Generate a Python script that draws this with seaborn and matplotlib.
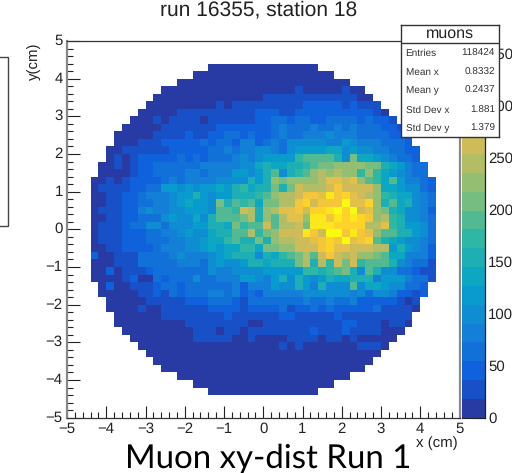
import numpy as np
import matplotlib
matplotlib.use("Agg")
import matplotlib.pyplot as plt
from matplotlib.colors import LinearSegmentedColormap, ListedColormap
from matplotlib.patches import Rectangle
import seaborn as sns

W, H = 512, 473

# colour band of each bin (0 = lowest band, 19 = top band)
# rows run from y = 4.3 down to y = -4.3, each row is centred on x = 0
band_rows = [
    [0] * 14,
    [0] * 18,
    [0] * 22,
    [0] * 13 + [0, 0, 0, 0, 1, 0, 0, 0, 0, 0, 1, 0, 0],
    [0] * 14 + [1] * 12 + [0, 0],
    [0] * 9 + [1, 0, 1, 1, 1, 1] + [1, 1, 1, 1, 1, 2, 2, 2, 2, 2, 1, 2, 1, 1, 1],
    [0] * 5 + [1, 1, 1, 1, 1, 1, 1, 1, 1, 1, 2] + [2, 2, 1, 1, 2, 2, 2, 2, 2, 2, 2, 2, 2, 2, 1, 0],
    [0, 0, 0, 1, 0, 1, 1, 1, 1, 0, 1, 1, 1, 1, 1, 1, 2] + [2, 3, 3, 2, 3, 3, 2, 2, 3, 3, 3, 3, 2, 3, 2, 2, 1],
    [0] * 5 + [1] * 7 + [2] * 6 + [2, 3, 4, 3, 3, 3, 4, 3, 3, 4, 3, 4, 3, 3, 3, 2, 2, 1],
    [0, 0, 0, 0, 0, 1, 1, 1, 1, 2, 1, 1, 2, 2, 3, 3, 2, 3, 2] + [2, 3, 4, 3, 3, 4, 4, 4, 5, 4, 4, 4, 3, 3, 3, 3, 2, 2, 1],
    [0, 0, 0, 1, 1, 1, 2, 2, 2, 2, 2, 3, 2, 3, 3, 2] + [4, 4, 2, 3, 4, 3, 5, 5, 5, 5, 5, 4, 4, 6, 5, 4, 4, 4, 3, 3, 3, 2],
    [0, 0, 1, 1, 1, 1, 1, 1, 2, 2, 2, 2, 2, 3, 3, 4, 3, 4, 4, 5] + [5, 4, 3, 5, 6, 6, 6, 6, 7, 7, 5, 6, 5, 5, 4, 4, 3, 3, 2, 2],
    [0, 1, 0, 1, 2, 2, 2, 2, 2, 3, 2, 3, 2, 3, 3, 3, 4, 5, 4, 5] + [6, 6, 6, 6, 9, 10, 10, 10, 10, 8, 5, 11, 7, 7, 6, 5, 4, 3, 3, 2],
    [0, 0, 1, 0, 1, 2, 2, 3, 3, 3, 3, 3, 3, 4, 4, 4, 4, 4, 5, 5, 7] + [8, 7, 7, 8, 8, 9, 10, 11, 11, 12, 12, 12, 12, 11, 11, 8, 7, 6, 4, 3, 3],
    [0, 0, 0, 0, 1, 2, 2, 3, 3, 3, 3, 4, 4, 3, 4, 4, 4, 6, 6, 5, 6] + [8, 10, 5, 8, 9, 10, 12, 13, 12, 13, 12, 12, 9, 12, 9, 7, 6, 5, 4, 3, 3],
    [0, 0, 1, 0, 1, 2, 2, 2, 2, 3, 4, 3, 4, 4, 4, 4, 5, 5, 5, 5, 8, 6] + [8, 12, 11, 12, 12, 12, 12, 13, 15, 15, 14, 15, 12, 10, 9, 7, 10, 6, 4, 4, 3, 2],
    [0, 1, 1, 1, 1, 2, 2, 3, 3, 6, 6, 5, 6, 5, 6, 6, 7, 6, 8, 9, 7, 8] + [8, 11, 8, 11, 14, 13, 13, 13, 14, 16, 14, 14, 14, 14, 12, 7, 7, 6, 5, 5, 3, 2],
    [0, 0, 1, 1, 2, 2, 3, 4, 4, 4, 5, 6, 6, 8, 6, 5, 6, 6, 8, 8, 8, 9] + [10, 12, 13, 13, 14, 16, 16, 15, 18, 16, 17, 15, 14, 13, 12, 9, 8, 7, 7, 5, 4, 3],
    [0, 0, 1, 1, 2, 2, 3, 3, 4, 4, 5, 6, 7, 6, 6, 5, 11, 8, 10, 9, 10, 7] + [11, 11, 13, 13, 16, 17, 14, 16, 16, 16, 19, 15, 15, 17, 12, 8, 10, 7, 8, 5, 4, 3],
    [0, 1, 1, 1, 2, 2, 4, 5, 4, 4, 5, 5, 6, 6, 6, 5, 10, 10, 9, 14, 13, 8] + [12, 13, 15, 15, 16, 14, 17, 17, 18, 19, 17, 19, 14, 15, 12, 11, 8, 7, 5, 5, 4, 2],
    [0, 0, 1, 1, 2, 2, 3, 3, 3, 5, 6, 5, 5, 7, 5, 8, 10, 10, 10, 11, 13, 8] + [12, 10, 13, 15, 15, 12, 18, 18, 16, 18, 17, 18, 17, 16, 12, 13, 9, 8, 5, 5, 4, 3],
    [0, 1, 1, 1, 2, 3, 3, 5, 5, 3, 5, 5, 5, 6, 6, 8, 8, 7, 11, 9, 10, 10] + [14, 10, 13, 13, 14, 11, 18, 18, 18, 17, 17, 17, 17, 13, 13, 15, 9, 8, 6, 6, 5, 3],
    [0, 1, 1, 1, 2, 2, 2, 3, 3, 4, 4, 5, 6, 5, 5, 7, 8, 8, 10, 10, 13, 9] + [11, 12, 14, 14, 14, 18, 16, 14, 19, 19, 16, 18, 16, 15, 12, 10, 10, 8, 8, 6, 5, 3],
    [0, 1, 1, 1, 2, 2, 2, 3, 3, 3, 4, 4, 5, 5, 6, 7, 7, 9, 10, 8, 8, 11] + [8, 12, 13, 13, 14, 14, 15, 16, 17, 16, 19, 15, 16, 17, 10, 8, 7, 6, 5, 5, 4, 3],
    [0, 0, 1, 1, 2, 2, 2, 2, 3, 4, 4, 4, 5, 5, 6, 7, 6, 7, 7, 9, 9, 7] + [11, 11, 12, 12, 14, 14, 14, 16, 17, 15, 15, 14, 14, 14, 13, 13, 6, 8, 6, 5, 4, 2],
    [2, 0, 0, 1, 1, 1, 3, 3, 3, 3, 4, 5, 4, 4, 4, 5, 6, 7, 8, 8, 8, 5] + [8, 7, 9, 10, 11, 13, 10, 14, 16, 14, 13, 14, 12, 12, 11, 10, 7, 7, 4, 4, 4, 2],
    [0, 0, 0, 1, 1, 1, 3, 3, 3, 3, 3, 4, 4, 4, 3, 5, 6, 5, 5, 6, 8, 8] + [7, 8, 8, 8, 11, 13, 8, 13, 9, 14, 11, 14, 9, 10, 10, 10, 8, 5, 4, 3, 3, 1],
    [0, 0, 2, 0, 1, 1, 1, 2, 3, 3, 3, 3, 3, 3, 3, 5, 4, 4, 5, 5, 5, 5] + [6, 6, 6, 6, 6, 9, 9, 8, 9, 10, 11, 8, 5, 10, 8, 5, 5, 3, 3, 2, 1, 1],
    [0, 0, 0, 0, 1, 2, 0, 0, 3, 2, 3, 3, 3, 5, 3, 3, 4, 4, 4, 6, 6, 5] + [4, 6, 8, 5, 8, 6, 5, 6, 8, 7, 7, 8, 8, 8, 4, 6, 6, 6, 4, 3, 3, 1],
    [0, 2, 0, 0, 1, 1, 1, 2, 3, 3, 2, 3, 3, 3, 3, 3, 3, 4, 2, 4, 4] + [4, 6, 5, 5, 8, 6, 4, 8, 5, 5, 5, 10, 5, 7, 7, 6, 5, 5, 3, 3, 2],
    [0, 0, 0, 0, 0, 1, 1, 2, 1, 3, 2, 3, 3, 3, 4, 4, 3, 4, 2, 3, 2] + [4, 4, 4, 4, 4, 5, 5, 5, 5, 5, 5, 4, 5, 3, 5, 5, 4, 2, 2, 1, 2],
    [0, 0, 0, 0, 0, 1, 1, 1, 1, 1, 2, 2, 2, 3, 3, 3, 2, 1, 3, 3] + [3, 3, 3, 3, 3, 4, 3, 3, 4, 3, 3, 4, 2, 2, 2, 2, 2, 1, 0, 1],
    [0, 0, 0, 0, 1, 0, 0, 1, 1, 1, 1, 1, 1, 2, 2, 2, 2, 1, 2, 2] + [2, 2, 3, 1, 2, 2, 3, 2, 3, 2, 2, 2, 2, 2, 3, 1, 1, 1, 1, 0],
    [0, 0, 0, 0, 0, 0, 1, 1, 1, 1, 1, 1, 1, 1, 2, 1, 1, 1, 1] + [1, 1, 2, 2, 1, 1, 1, 1, 1, 2, 1, 1, 1, 1, 1, 1, 1, 1, 1],
    [0, 0, 0, 0, 0, 0, 0, 0, 0, 1, 1, 1, 1, 1, 1, 1, 1, 0, 0] + [1, 1, 1, 1, 1, 1, 1, 1, 1, 1, 2, 2, 1, 1, 1, 0, 1, 1, 0],
    [0] * 9 + [1, 1, 1, 0, 1, 1, 0, 1, 1] + [1, 1, 1, 1, 1, 1, 2, 1, 1, 1, 2, 1, 1, 1, 1, 0, 0, 0],
    [0] * 8 + [1, 1, 1, 1, 1, 0, 0, 1, 0] + [0, 0, 0, 1, 1, 1, 1, 0, 1, 1, 0, 1, 0, 0, 0, 0, 0],
    [0] * 16 + [0, 0, 1, 0, 1, 0, 0, 0, 0, 0, 0, 0, 1, 1, 1, 0],
    [0] * 30,
    [0] * 28,
    [0] * 26,
    [0] * 22,
    [0] * 18,
    [0] * 14,
]

# ROOT "bird" palette stops
bird_r = [0.2082, 0.0592, 0.0780, 0.0232, 0.1802, 0.5301, 0.8186, 0.9956, 0.9764]
bird_g = [0.1664, 0.3599, 0.5041, 0.6419, 0.7178, 0.7492, 0.7328, 0.7862, 0.9832]
bird_b = [0.5293, 0.8684, 0.8385, 0.7914, 0.6425, 0.4662, 0.3499, 0.1968, 0.0539]

n_bands = 20
z_max = 362
n_bins = 50
axis_ticks = [-5, -4, -3, -2, -1, 0, 1, 2, 3, 4, 5]
cbar_ticks = [0, 50, 100, 150, 200, 250, 300, 350]

stat_names = ["Entries", "Mean x", "Mean y", "Std Dev x", "Std Dev y"]
stat_values = ["118424", "0.8332", "0.2437", "1.881", "1.379"]

# turn the band numbers into a full count matrix, bins outside the circle stay empty
grid = np.full((n_bins, n_bins), np.nan)
first_row = (n_bins - len(band_rows)) // 2
for i, row in enumerate(band_rows):
    pad = (n_bins - len(row)) // 2
    grid[first_row + i, pad:pad + len(row)] = (np.array(row) + 0.5) * z_max / n_bands

sns.set_style("white")
plt.rcParams["font.family"] = ["Liberation Sans", "DejaVu Sans"]
plt.rcParams["text.hinting"] = "no_hinting"
plt.rcParams["text.hinting_factor"] = 1

bird = LinearSegmentedColormap.from_list("bird", list(zip(bird_r, bird_g, bird_b)))
palette = ListedColormap(bird(np.linspace(0.045, 1, n_bands)))


def fx(px):
    return px / W


def fy(py):
    return 1 - py / H


fig = plt.figure(figsize=(W / 100, H / 100), dpi=100)
ax = fig.add_axes([fx(67), fy(417.7), fx(459.5) - fx(67), fy(41) - fy(417.7)])
cax = fig.add_axes([fx(462), fy(417.7), fx(484.7) - fx(462), fy(41) - fy(417.7)])

sns.heatmap(grid, ax=ax, cbar_ax=cax, cmap=palette, vmin=0, vmax=z_max, linewidths=0,
            square=False, cbar_kws={"ticks": cbar_ticks})

tick_pos = [(v + 5) * n_bins / 10 for v in axis_ticks]
tick_labels = [str(v).replace("-", "\u2212") for v in axis_ticks]
ax.set_xticks(tick_pos, tick_labels, rotation=0)
ax.set_yticks(tick_pos[::-1], tick_labels, rotation=0)
ax.set_xticks(range(n_bins + 1), minor=True)
ax.set_yticks(range(n_bins + 1), minor=True)
ax.tick_params(which="major", direction="in", length=9, width=0.8, color="#222222",
               labelsize=10.5, labelcolor="#222222", pad=3, bottom=True, left=True)
ax.tick_params(which="minor", direction="in", length=4.5, width=0.8, color="#222222",
               bottom=True, left=True)
for name, spine in ax.spines.items():
    spine.set_visible(True)
    spine.set_color("#888888" if name in ("left", "right") else "#333333")
    spine.set_linewidth(1.6 if name in ("left", "right") else 0.9)

cb = ax.collections[0].colorbar
cb.outline.set_visible(False)
cax.spines["right"].set_visible(True)
cax.spines["right"].set_color("#222222")
cax.spines["right"].set_linewidth(0.9)
cax.spines["bottom"].set_visible(True)
cax.spines["bottom"].set_color("#222222")
cax.tick_params(direction="in", length=9, width=0.8, color="#222222", labelsize=10.5,
                labelcolor="#222222", pad=2.5, right=True)

fig.text(fx(259), fy(10), "run 16355, station 18", ha="center", va="center", fontsize=15.4, color="#222222")
fig.text(fx(34), fy(43), "y(cm)", rotation=90, ha="center", va="top", fontsize=10.6, color="#222222")
fig.text(fx(458), fy(443), "x (cm)", ha="right", va="center", fontsize=10.6, color="#222222")
fig.text(fx(125), fy(473), "Muon xy-dist Run 1", ha="left", va="bottom", fontsize=24.1, color="black",
         family=["Lato", "DejaVu Sans"])

# stats box, sits on top of the colour bar labels
box = fig.add_axes([fx(400.7), fy(137), fx(499.3) - fx(400.7), fy(24.7) - fy(137)], zorder=5)
box.set_xticks([])
box.set_yticks([])
box.set_facecolor("white")
for spine in box.spines.values():
    spine.set_color("#333333")
    spine.set_linewidth(1.0)
box.axhline(1 - 18.6 / 112.3, color="#333333", linewidth=1.0)
box.text(0.5, 1 - 9 / 112.3, "muons", transform=box.transAxes, ha="center", va="center", fontsize=11.5, color="#222222")
for name, value, py in zip(stat_names, stat_values, [53, 72, 90, 110, 128]):
    y = (137 - py) / 112.3
    box.text(0.05, y, name, transform=box.transAxes, ha="left", va="center", fontsize=7, color="#333333")
    box.text(0.955, y, value, transform=box.transAxes, ha="right", va="center", fontsize=7, color="#333333")

# edge of the neighbouring box, cut off by the slide
fig.add_artist(Rectangle((-0.02, fy(226)), fx(8) + 0.02, fy(57) - fy(226), transform=fig.transFigure,
                         fill=False, edgecolor="#444444", linewidth=1.0))

fig.savefig("out.png", dpi=100)
